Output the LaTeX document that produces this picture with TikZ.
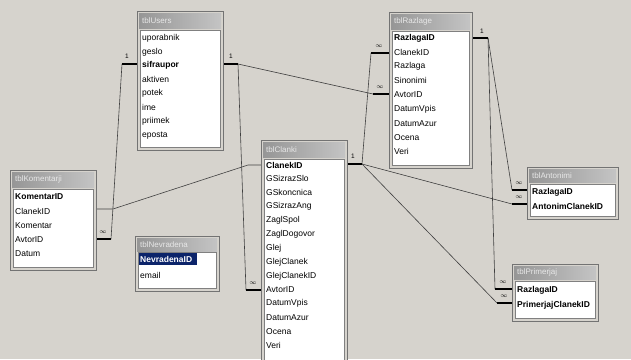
\documentclass[tikz,border=0pt]{standalone}
\usepackage{fontspec}
\setmainfont{Liberation Sans}
\definecolor{winbg}{RGB}{214,211,205}
\definecolor{titleL}{RGB}{150,150,150}
\definecolor{titleR}{RGB}{196,196,196}
\definecolor{titletxt}{RGB}{232,232,232}
\definecolor{selblue}{RGB}{12,36,106}
\tikzset{
  tframe/.style={anchor=north west, fill=winbg, draw=black!55, line width=0.9pt, inner sep=0pt},
  tbar/.style={anchor=north west, left color=titleL, right color=titleR, draw=none, inner sep=0pt},
  tarea/.style={anchor=north west, fill=white, draw=black!50, line width=0.6pt, inner sep=0pt},
  ttl/.style={anchor=west, inner sep=0pt, text=titletxt, font=\fontsize{8}{9}\selectfont},
  fld/.style={anchor=west, inner sep=0pt, font=\fontsize{8.5}{9}\selectfont},
  pk/.style={anchor=west, inner sep=0pt, font=\fontsize{8.5}{9}\selectfont\bfseries},
  rel/.style={draw=black!75, line width=0.6pt},
  jbar/.style={draw=black, line width=1.8pt},
  lbl/.style={inner sep=0pt, font=\fontsize{6.5}{7}\selectfont}
}
\begin{document}
\begin{tikzpicture}[x=1pt,y=-1pt]
\useasboundingbox[fill=winbg] (0,0) rectangle (631,359);
\clip (0,0) rectangle (631,359);

% ---------- connectors ----------
% tblUsers left -> tblKomentarji.AvtorID
\coordinate (uL) at (122,64);
\coordinate (kA) at (111,239);
\coordinate (uLe) at (137,64);
\coordinate (kAe) at (96,239);
\draw[rel] (uL) -- (kA);
\draw[jbar] (uLe) -- (uL);
\draw[jbar] (kA) -- (kAe);
\node[lbl] (one1) at (127,56) {1};
\node[lbl] (inf1) at (103,232) {$\infty$};

% tblUsers right -> tblRazlage.AvtorID, tblClanki.AvtorID
\coordinate (uR) at (238,64);
\coordinate (uRe) at (223,64);
\coordinate (rA) at (373,94);
\coordinate (rAe) at (389,94);
\coordinate (cA) at (246,290);
\coordinate (cAe) at (261,290);
\draw[rel] (uR) -- (rA);
\draw[rel] (uR) -- (cA);
\draw[jbar] (uRe) -- (uR);
\draw[jbar] (rA) -- (rAe);
\draw[jbar] (cA) -- (cAe);
\node[lbl] (one2) at (231,56) {1};
\node[lbl] (inf2) at (380,87) {$\infty$};
\node[lbl] (inf3) at (253,283) {$\infty$};

% tblKomentarji.ClanekID -> tblClanki.ClanekID
\coordinate (kCe) at (96,209);
\coordinate (kC) at (113,209);
\coordinate (cC) at (248,165);
\coordinate (cCe) at (261,165);
\draw[rel] (kCe) -- (kC) -- (cC) -- (cCe);

% tblClanki right
\coordinate (cRe) at (347,164);
\coordinate (cR) at (362,164);
\coordinate (rC) at (371,53);
\coordinate (rCe) at (389,53);
\coordinate (aA) at (512,204);
\coordinate (aAe) at (527,204);
\coordinate (pP) at (497,303);
\coordinate (pPe) at (512,303);
\draw[rel] (cR) -- (rC);
\draw[rel] (cR) -- (aA);
\draw[rel] (cR) -- (pP);
\draw[jbar] (cRe) -- (cR);
\draw[jbar] (rC) -- (rCe);
\draw[jbar] (aA) -- (aAe);
\draw[jbar] (pP) -- (pPe);
\node[lbl] (one3) at (353,156) {1};
\node[lbl] (inf4) at (379,46) {$\infty$};
\node[lbl] (inf5) at (519,197) {$\infty$};
\node[lbl] (inf6) at (504,296) {$\infty$};

% tblRazlage right
\coordinate (rRe) at (472,38);
\coordinate (rR) at (488,38);
\coordinate (aR) at (512,190);
\coordinate (aRe) at (527,190);
\coordinate (pR) at (495,289);
\coordinate (pRe) at (512,289);
\draw[rel] (rR) -- (aR);
\draw[rel] (rR) -- (pR);
\draw[jbar] (rRe) -- (rR);
\draw[jbar] (aR) -- (aRe);
\draw[jbar] (pR) -- (pRe);
\node[lbl] (one4) at (482,31) {1};
\node[lbl] (inf7) at (519,183) {$\infty$};
\node[lbl] (inf8) at (503,282) {$\infty$};

% ---------- tblUsers ----------
\node[tframe, minimum width=86pt, minimum height=139pt] (users) at (137,11) {};
\node[tbar, minimum width=82pt, minimum height=15pt] (users-t) at (139,13) {};
\node[ttl] (users-tt) at (142,20.5) {tblUsers};
\node[tarea, minimum width=80pt, minimum height=117pt] (users-a) at (140,30) {};
\foreach \t [count=\i from 0] in {uporabnik,geslo,sifraupor,aktiven,potek,ime,priimek,eposta}{
  \ifnum\i=2
    \node[pk] (users-\i) at (142,{38+13.9*\i}) {\t};
  \else
    \node[fld] (users-\i) at (142,{38+13.9*\i}) {\t};
  \fi
}

% ---------- tblRazlage ----------
\node[tframe, minimum width=83pt, minimum height=156pt] (rad) at (389,12) {};
\node[tbar, minimum width=79pt, minimum height=15pt] (rad-t) at (391,14) {};
\node[ttl] (rad-tt) at (394,21.5) {tblRazlage};
\node[tarea, minimum width=77pt, minimum height=134pt] (rad-a) at (392,31) {};
\foreach \t [count=\i from 0] in {RazlagaID,ClanekID,Razlaga,Sinonimi,AvtorID,DatumVpis,DatumAzur,Ocena,Veri}{
  \ifnum\i=0
    \node[pk] (rad-\i) at (394,{38+14.2*\i}) {\t};
  \else
    \node[fld] (rad-\i) at (394,{38+14.2*\i}) {\t};
  \fi
}

% ---------- tblKomentarji ----------
\node[tframe, minimum width=86pt, minimum height=100pt] (kom) at (10,170) {};
\node[tbar, minimum width=82pt, minimum height=15pt] (kom-t) at (12,172) {};
\node[ttl] (kom-tt) at (15,179.5) {tblKomentarji};
\node[tarea, minimum width=80pt, minimum height=78pt] (kom-a) at (13,189) {};
\foreach \t [count=\i from 0] in {KomentarID,ClanekID,Komentar,AvtorID,Datum}{
  \ifnum\i=0
    \node[pk] (kom-\i) at (15,{197+14.25*\i}) {\t};
  \else
    \node[fld] (kom-\i) at (15,{197+14.25*\i}) {\t};
  \fi
}

% ---------- tblNevradena ----------
\node[tframe, minimum width=84pt, minimum height=55pt] (nev) at (135,236) {};
\node[tbar, minimum width=80pt, minimum height=13pt] (nev-t) at (137,238) {};
\node[ttl] (nev-tt) at (140,244.5) {tblNevradena};
\node[tarea, minimum width=78pt, minimum height=36pt] (nev-a) at (138,252) {};
\node[anchor=north west, fill=selblue, minimum width=58pt, minimum height=12pt, inner sep=0pt] (nev-sel) at (139,253) {};
\node[pk, text=white] (nev-0) at (140,259) {NevradenaID};
\node[fld] (nev-1) at (140,275) {email};

% ---------- tblClanki ----------
\node[tframe, minimum width=86pt, minimum height=230pt] (cla) at (261,140) {};
\node[tbar, minimum width=82pt, minimum height=15pt] (cla-t) at (263,142) {};
\node[ttl] (cla-tt) at (266,149.5) {tblClanki};
\node[tarea, minimum width=80pt, minimum height=208pt] (cla-a) at (264,159) {};
\foreach \t [count=\i from 0] in {ClanekID,GSizrazSlo,GSkoncnica,GSizrazAng,ZaglSpol,ZaglDogovor,Glej,GlejClanek,GlejClanekID,AvtorID,DatumVpis,DatumAzur,Ocena,Veri}{
  \ifnum\i=0
    \node[pk] (cla-\i) at (266,{165+13.85*\i}) {\t};
  \else
    \node[fld] (cla-\i) at (266,{165+13.85*\i}) {\t};
  \fi
}

% ---------- tblAntonimi ----------
\node[tframe, minimum width=91pt, minimum height=52pt] (ant) at (527,167) {};
\node[tbar, minimum width=87pt, minimum height=13pt] (ant-t) at (529,169) {};
\node[ttl] (ant-tt) at (532,175.5) {tblAntonimi};
\node[tarea, minimum width=85pt, minimum height=32pt] (ant-a) at (530,184) {};
\node[pk] (ant-0) at (532,192) {RazlagaID};
\node[pk] (ant-1) at (532,206) {AntonimClanekID};

% ---------- tblPrimerjaj ----------
\node[tframe, minimum width=86pt, minimum height=57pt] (pri) at (512,264) {};
\node[tbar, minimum width=82pt, minimum height=13pt] (pri-t) at (514,266) {};
\node[ttl] (pri-tt) at (517,272.5) {tblPrimerjaj};
\node[tarea, minimum width=80pt, minimum height=37pt] (pri-a) at (515,281) {};
\node[pk] (pri-0) at (517,290) {RazlagaID};
\node[pk] (pri-1) at (517,305) {PrimerjajClanekID};
\end{tikzpicture}
\end{document}
